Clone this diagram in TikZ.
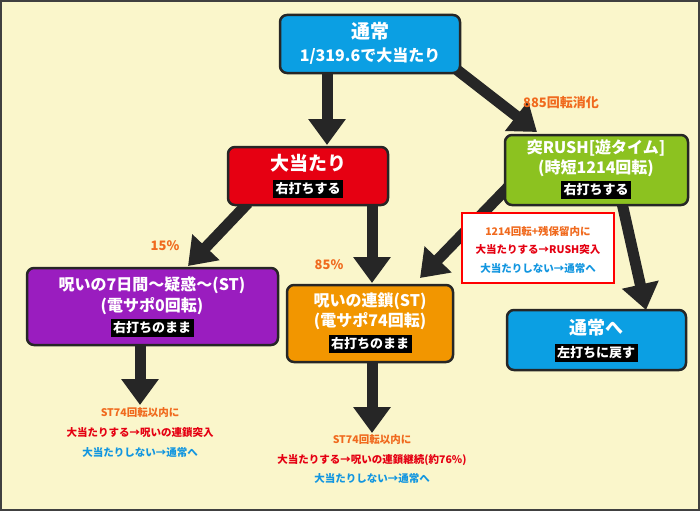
\documentclass[tikz,border=0pt]{standalone}
\usepackage{fontspec}
\setmainfont{Noto Sans CJK JP}
\usetikzlibrary{arrows.meta}
\definecolor{bg}{HTML}{FAF6CB}
\definecolor{cblue}{HTML}{0B9FE3}
\definecolor{cred}{HTML}{E60012}
\definecolor{cgreen}{HTML}{8CC220}
\definecolor{cpurple}{HTML}{9A1DBF}
\definecolor{corange}{HTML}{F29600}
\definecolor{ctxt}{HTML}{F06A1E}
\definecolor{ctred}{HTML}{E50012}
\definecolor{ctblue}{HTML}{1296E0}
\begin{document}
\begin{tikzpicture}[x=1pt,y=-1pt,font=\bfseries,
 box/.style={draw=black!85,line width=2.5pt,rounded corners=7pt},
 big/.style={-{Triangle[length=26pt,width=36pt]},line width=11pt,black!85},
 lab/.style={fill=black,text=white,inner sep=2.5pt,font=\bfseries\fontsize{13}{13}\selectfont},
 wt/.style={text=white,align=center,font=\bfseries\fontsize{16}{18}\selectfont},
 sm/.style={font=\bfseries\fontsize{10.5}{12}\selectfont}]
\useasboundingbox (0,0) rectangle (700,511);
\draw[fill=bg,draw=black!75,line width=1.5pt] (1,1) rectangle (699,510);
% arrows first
\coordinate (a1s) at (327,72); \coordinate (a1e) at (327,145);
\draw[big] (a1s) -- (a1e);
\coordinate (a2s) at (452,66); \coordinate (a2e) at (537,132);
\draw[big] (a2s) -- (a2e);
\coordinate (a3s) at (248,203); \coordinate (a3e) at (188,266);
\draw[big] (a3s) -- (a3e);
\coordinate (a4s) at (372,203); \coordinate (a4e) at (372,283);
\draw[big] (a4s) -- (a4e);
\coordinate (a5s) at (515,180); \coordinate (a5e) at (420,278);
\draw[big] (a5s) -- (a5e);
\coordinate (a6s) at (622,203); \coordinate (a6e) at (646,310);
\draw[big] (a6s) -- (a6e);
\coordinate (a7s) at (140,343); \coordinate (a7e) at (140,405);
\draw[big] (a7s) -- (a7e);
\coordinate (a8s) at (372,360); \coordinate (a8e) at (372,433);
\draw[big] (a8s) -- (a8e);
% boxes
\draw[box,fill=cblue] (280,15) rectangle (460,73);
\node[wt] (n1) at (370,31) {\fontsize{19}{20}\selectfont 通常};
\node[wt] (n1b) at (370,56) {1/319.6で大当たり};
\draw[box,fill=cred] (228,147) rectangle (388,205);
\node[wt] (n2) at (308,163) {\fontsize{19}{20}\selectfont 大当たり};
\node[lab] (n2l) at (308,189) {右打ちする};
\draw[box,fill=cgreen] (505,135) rectangle (688,205);
\node[wt] (n3) at (596,148) {突RUSH[遊タイム]};
\node[wt] (n3b) at (596,168) {(時短1214回転)};
\node[lab] (n3l) at (596,190) {右打ちする};
\draw[box,fill=cpurple] (27,268) rectangle (278,345);
\node[wt] (n4) at (152,285) {呪いの7日間～疑惑～(ST)};
\node[wt] (n4b) at (152,306) {(電サポ0回転)};
\node[lab] (n4l) at (152,328) {右打ちのまま};
\draw[box,fill=corange] (287,285) rectangle (453,362);
\node[wt] (n5) at (370,301) {呪いの連鎖(ST)};
\node[wt] (n5b) at (370,321) {(電サポ74回転)};
\node[lab] (n5l) at (370,344) {右打ちのまま};
\draw[box,fill=cblue] (507,310) rectangle (686,370);
\node[wt] (n6) at (596,328) {\fontsize{18}{20}\selectfont 通常へ};
\node[lab] (n6l) at (596,353) {左打ちに戻す};
% red note box
\draw[draw=red,line width=2.5pt,fill=white] (462,213) rectangle (614,283);
\node[sm,text=ctxt] (r1) at (538,231) {1214回転+残保留内に};
\node[sm,text=ctred] (r2) at (538,250) {大当たりする→RUSH突入};
\node[sm,text=ctblue] (r3) at (538,268) {大当たりしない→通常へ};
% labels
\node[text=ctxt,font=\bfseries\fontsize{13}{14}\selectfont] (l1) at (561,103) {885回転消化};
\node[text=ctxt,font=\bfseries\fontsize{13}{14}\selectfont] (l2) at (165,246) {15\%};
\node[text=ctxt,font=\bfseries\fontsize{13}{14}\selectfont] (l3) at (329,265) {85\%};
% bottom texts
\node[sm,text=ctxt] (b1) at (140,413) {ST74回転以内に};
\node[sm,text=ctred] (b2) at (140,433) {大当たりする→呪いの連鎖突入};
\node[sm,text=ctblue] (b3) at (140,452) {大当たりしない→通常へ};
\node[sm,text=ctxt] (c1) at (372,440) {ST74回転以内に};
\node[sm,text=ctred] (c2) at (372,460) {大当たりする→呪いの連鎖継続(約76\%)};
\node[sm,text=ctblue] (c3) at (372,478) {大当たりしない→通常へ};
\end{tikzpicture}
\end{document}
